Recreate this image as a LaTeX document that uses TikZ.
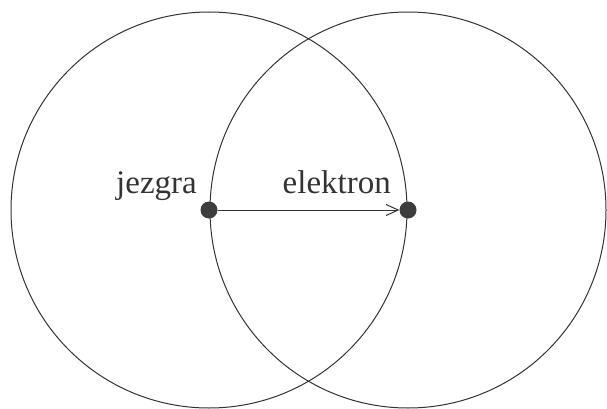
\documentclass[tikz,border=0pt]{standalone}
\usepackage{fontspec}
\setmainfont{Liberation Serif}
\usetikzlibrary{arrows.meta}
\definecolor{ink}{HTML}{333333}
\tikzset{
  orbit/.style={draw=ink, line width=1pt},
  particle/.style={circle, fill=ink!95!white, minimum size=17pt, inner sep=0pt},
  lbl/.style={inner sep=0pt, font=\fontsize{33pt}{36pt}\selectfont, text=ink, anchor=base east},
}
\begin{document}
\begin{tikzpicture}[x=1pt,y=1pt]
\useasboundingbox (0,0) rectangle (607,408);
\draw[orbit] (209,198) circle (198);
\draw[orbit] (408,198) circle (198);
\node[particle] (nuc) at (209,198) {};
\node[particle] (ele) at (408,198) {};
\draw[draw=ink, line width=1pt, -{Straight Barb[length=12pt,width=11pt]}] (nuc) -- (ele);
\node[lbl] (jez) at (197,215) {jezgra};
\node[lbl] (elk) at (391,215) {elektron};
\end{tikzpicture}
\end{document}
